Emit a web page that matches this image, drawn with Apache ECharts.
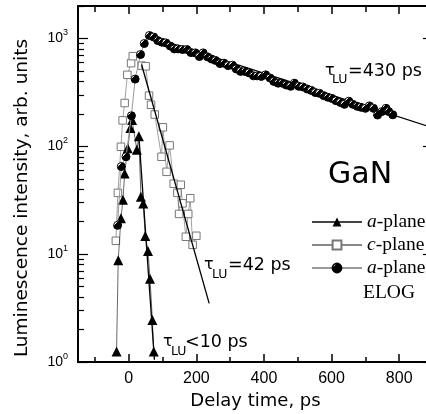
<!DOCTYPE html>
<html><head><meta charset="utf-8">
<script src="https://cdn.jsdelivr.net/npm/echarts@6/dist/echarts.min.js"></script>
<style>html,body{margin:0;padding:0;background:#fff}#c{width:426px;height:414px}</style>
</head><body><div id="c"></div>
<script>
// ---- tick values ----
const xMajorTicks = [0, 200, 400, 600, 800];
const xMinorTicks = [-100, 100, 300, 500, 700];
const yMajorTicks = [1, 10, 100, 1000];
const yMinorTicks = [2,3,4,5,6,7,8,9,20,30,40,50,60,70,80,90,200,300,400,500,600,700,800,900,2000];

// ---- a-plane (triangles) ----
const aPlaneT = [-36,-31,-23,-17,-12,-3,5,10,24,30,36,43,49,57,63,70,74];
const aPlaneI = [1.25,8.8,21.5,32,56,96,148,175,93,124,34,29.5,14.7,10.7,5.9,2.45,1.25];

// ---- c-plane (open squares) ----
const cPlaneT = [-38,-32,-23,-18,-12,-4,7,12,38,50,60,66,77,97,101,112,121,133,144,149,154,159,169,176,182,189,200];
const cPlaneI = [13.3,37,99,174,252,460,590,685,560,552,295,243,197,80,150,58,102,45,37,23.6,44,29.6,14.5,23.6,33,12.2,14.8];

// ---- a-plane ELOG (half-filled circles) ----
const elogT = [-33,-22,-8,8,19,35,46,61,74,86,98,110,123,135,146,159,172,184,197,209,220,233,245,257,270,282,294,307,318,331,344,356,369,380,392,405,418,429,442,454,466,479,490,503,515,528,540,552,564,577,589,601,613,626,638,651,663,676,687,700,712,724,736,749,761,769,781];
const elogI = [18.5,65,80,192,420,710,898,1066,1030,955,923,910,850,800,800,790,790,740,735,680,735,675,645,625,585,590,560,565,522,495,495,480,450,450,445,460,430,400,385,385,370,360,385,360,355,340,330,315,310,295,285,278,265,255,245,262,245,235,230,225,237,225,195,210,225,210,196];

// ---- exponential fit lines (end points) ----
const fitAT = [30, 76],  fitAI = [125, 1.05];
const fitCT = [38, 238], fitCI = [573, 3.5];
const fitET = [60, 900], fitEI = [1050, 148];

const zip = (t, v) => t.map((x, i) => [x, v[i]]);

const chart = echarts.init(document.getElementById('c'), null, {renderer: 'canvas'});
const G = {left: 78, right: -7, top: 6, bottom: 52, outerBoundsMode: 'none', containLabel: false};
const sans = '"Liberation Sans", Arial, sans-serif';
const wide = '"DejaVu Sans", sans-serif';
const serif = '"Liberation Serif", "Times New Roman", serif';

function xAxis(grid, position, ticks, len, showLine, labels) {
  return {
    type: 'value', gridIndex: grid, position: position, min: -150, max: 900,
    axisLine: {show: showLine, onZero: false, lineStyle: {color: '#000', width: 2}},
    axisTick: {show: true, inside: true, length: len, customValues: ticks, lineStyle: {color: '#000', width: 1.5}},
    axisLabel: labels ? {show: true, customValues: ticks, color: '#000', fontFamily: sans, fontSize: 16, margin: 9} : {show: false},
    splitLine: {show: false}
  };
}
function yAxis(grid, position, ticks, len, showLine, labels) {
  return {
    type: 'log', logBase: 10, gridIndex: grid, position: position, min: 1, max: 2000,
    axisLine: {show: showLine, onZero: false, lineStyle: {color: '#000', width: 2}},
    axisTick: {show: true, inside: true, length: len, customValues: ticks, lineStyle: {color: '#000', width: 1.2}},
    axisLabel: labels ? {
      show: true, customValues: ticks, margin: 10,
      formatter: v => '{b|10}{s|' + Math.round(Math.log10(v)) + '}',
      rich: {
        b: {fontFamily: sans, fontSize: 14, color: '#000', lineHeight: 20},
        s: {fontFamily: sans, fontSize: 9, color: '#000', verticalAlign: 'top', lineHeight: 20}
      }
    } : {show: false},
    splitLine: {show: false}
  };
}

const xAxes = [
  xAxis(0, 'bottom', xMajorTicks, 8, true, true),
  xAxis(1, 'bottom', xMinorTicks, 5, false, false),
  xAxis(2, 'top', xMajorTicks, 8, true, false),
  xAxis(3, 'top', xMinorTicks, 6, false, false)
];
xAxes[0].name = 'Delay time, ps';
xAxes[0].nameLocation = 'middle';
xAxes[0].nameGap = 28;
xAxes[0].nameTextStyle = {fontFamily: wide, fontSize: 18, color: '#000'};

const yAxes = [
  yAxis(0, 'left', yMajorTicks, 10, true, true),
  yAxis(1, 'left', yMinorTicks, 6, false, false),
  yAxis(2, 'right', yMajorTicks, 10, true, false),
  yAxis(3, 'right', yMinorTicks, 6, false, false)
];
yAxes[0].name = 'Luminescence intensity, arb. units';
yAxes[0].nameLocation = 'middle';
yAxes[0].nameGap = 46;
yAxes[0].nameTextStyle = {fontFamily: wide, fontSize: 18.5, color: '#000', padding: [0, 28, 0, 0]};

const halfFill = new echarts.graphic.LinearGradient(0, 0, 1, 1, [
  {offset: 0, color: '#fff'}, {offset: 0.3, color: '#fff'},
  {offset: 0.3, color: '#000'}, {offset: 1, color: '#000'}
]);

const option = {
  animation: false,
  backgroundColor: '#fff',
  grid: [G, G, G, G],
  xAxis: xAxes,
  yAxis: yAxes,
  legend: {
    data: ['a-plane', 'c-plane', 'a-plane ELOG'],
    orient: 'vertical', left: 311, top: 212, padding: 0,
    itemWidth: 50, itemHeight: 11, itemGap: 3,
    formatter: n => n === 'c-plane' ? '{i|c}{n|-plane}' : '{i|a}{n|-plane}',
    textStyle: {
      color: '#000', lineHeight: 20,
      rich: {
        i: {fontFamily: serif, fontStyle: 'italic', fontSize: 19.5, color: '#000'},
        n: {fontFamily: serif, fontSize: 19.5, color: '#000'}
      }
    }
  },
  series: [
    {
      name: 'c-plane', type: 'line', data: zip(cPlaneT, cPlaneI), z: 2,
      symbol: 'rect', symbolSize: 7.5,
      itemStyle: {color: '#fff', borderColor: '#777', borderWidth: 1},
      lineStyle: {color: '#888', width: 0.8}
    },
    {
      name: 'a-plane', type: 'line', data: zip(aPlaneT, aPlaneI), z: 4,
      symbol: 'triangle', symbolSize: 10,
      itemStyle: {color: '#000'},
      lineStyle: {color: '#444', width: 0.8}
    },
    {name: 'fitA', type: 'line', data: zip(fitAT, fitAI), z: 5, symbol: 'none', lineStyle: {color: '#000', width: 1.3}},
    {name: 'fitC', type: 'line', data: zip(fitCT, fitCI), z: 3, symbol: 'none', lineStyle: {color: '#000', width: 1.3}},
    {name: 'fitE', type: 'line', data: zip(fitET, fitEI), z: 3, symbol: 'none', lineStyle: {color: '#000', width: 1.3}},
    {
      name: 'a-plane ELOG', type: 'line', data: zip(elogT, elogI), z: 6,
      symbol: 'circle', symbolSize: 8,
      itemStyle: {color: halfFill, borderColor: '#000', borderWidth: 1},
      lineStyle: {color: '#999', width: 1}
    }
  ],
  graphic: [
    {type: 'text', left: 328, top: 160, style: {text: 'GaN', font: '30px "DejaVu Sans"', fill: '#000'}},
    {type: 'text', x: 363, y: 292.5, style: {text: 'ELOG', font: '19.5px "Liberation Serif"', fill: '#000', verticalAlign: 'middle'}},
    // tau = 430 ps
    {type: 'text', x: 325, y: 70.7, style: {text: 'τ', font: '16px "DejaVu Sans"', fill: '#000', verticalAlign: 'middle'}},
    {type: 'text', x: 332, y: 79.3, style: {text: 'LU', font: '12.5px "DejaVu Sans"', fill: '#000', verticalAlign: 'middle'}},
    {type: 'text', x: 348, y: 71.5, style: {text: '=430 ps', font: '17.5px "DejaVu Sans"', fill: '#000', verticalAlign: 'middle'}},
    // tau = 42 ps
    {type: 'text', x: 204, y: 265, style: {text: 'τ', font: '16px "DejaVu Sans"', fill: '#000', verticalAlign: 'middle'}},
    {type: 'text', x: 212, y: 274.3, style: {text: 'LU', font: '12.5px "DejaVu Sans"', fill: '#000', verticalAlign: 'middle'}},
    {type: 'text', x: 228, y: 265.8, style: {text: '=42 ps', font: '17.5px "DejaVu Sans"', fill: '#000', verticalAlign: 'middle'}},
    // tau < 10 ps
    {type: 'text', x: 163, y: 342, style: {text: 'τ', font: '16px "DejaVu Sans"', fill: '#000', verticalAlign: 'middle'}},
    {type: 'text', x: 171, y: 351.3, style: {text: 'LU', font: '12.5px "DejaVu Sans"', fill: '#000', verticalAlign: 'middle'}},
    {type: 'text', x: 185, y: 342.8, style: {text: '<10 ps', font: '17.5px "DejaVu Sans"', fill: '#000', verticalAlign: 'middle'}}
  ]
};
chart.setOption(option);
</script>
</body></html>
